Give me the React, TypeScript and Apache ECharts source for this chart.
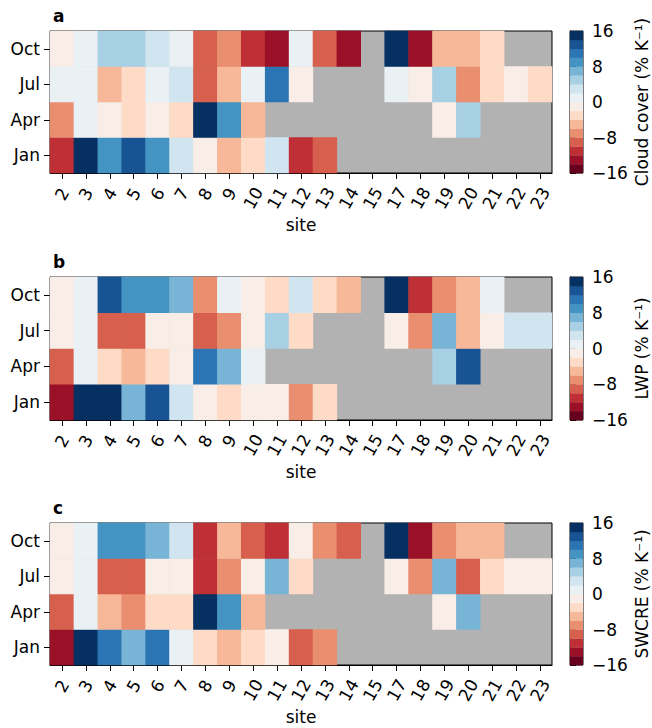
import React, { useEffect, useRef } from "react";
import * as echarts from "echarts";

const SITES = ["2","3","4","5","6","7","8","9","10","11","12","13","14","15","17","18","19","20","21","22","23"];
const MONTHS = ["Jan", "Apr", "Jul", "Oct"];

// Cloud cover (% K-1)
const CLOUD_JAN = [-11, 15, 9, 13, 9, 3, -1, -5, -3, 3, -11, -9, null, null, null, null, null, null, null, null, null];
const CLOUD_APR = [-7, 1, -1, -3, -1, -3, 15, 9, -5, null, null, null, null, null, null, null, -1, 5, null, null, null];
const CLOUD_JUL = [1, 1, -5, -3, 1, 3, -9, -5, 1, 11, -1, null, null, null, 1, -1, 5, -7, -3, -1, -3];
const CLOUD_OCT = [-1, 1, 5, 5, 3, 1, -9, -7, -11, -13, 1, -9, -13, null, 15, -13, -5, -5, -3, null, null];

// LWP (% K-1)
const LWP_JAN = [-13, 15, 15, 7, 13, 3, -1, -3, -1, -1, -7, -3, null, null, null, null, null, null, null, null, null];
const LWP_APR = [-9, 1, -3, -5, -3, -1, 11, 7, 1, null, null, null, null, null, null, null, 5, 13, null, null, null];
const LWP_JUL = [-1, 1, -9, -9, -1, -1, -9, -7, -1, 5, -3, null, null, null, -1, -7, 7, -5, -1, 3, 3];
const LWP_OCT = [-1, 1, 13, 9, 9, 7, -7, 1, -1, -3, 3, -3, -5, null, 15, -11, -7, -5, 1, null, null];

// SWCRE (% K-1)
const SW_JAN = [-13, 15, 11, 7, 11, 1, -3, -5, -3, -1, -9, -7, null, null, null, null, null, null, null, null, null];
const SW_APR = [-9, 1, -5, -7, -3, -3, 15, 9, -5, null, null, null, null, null, null, null, -1, 7, null, null, null];
const SW_JUL = [-1, 1, -9, -9, -1, -1, -11, -7, -1, 7, -3, null, null, null, -1, -7, 7, -9, -3, -1, -1];
const SW_OCT = [-1, 1, 9, 9, 7, 3, -11, -5, -9, -11, -1, -7, -9, null, 15, -13, -7, -5, -5, null, null];

const PANEL_LETTERS = ["a", "b", "c"];
const CBAR_NAMES = ["Cloud cover (% K\u207B\u00B9)", "LWP (% K\u207B\u00B9)", "SWCRE (% K\u207B\u00B9)"];
const CBAR_EDGES = [-16, -14, -12, -10, -8, -6, -4, -2, 0, 2, 4, 6, 8, 10, 12, 14, 16];
const CBAR_MIN = -16;
const CBAR_MAX = 16;
const CBAR_STEP = 8;

const COLORS = [
  "#67001f", "#991027", "#be3036", "#d6604d", "#ea8e70", "#f7b799", "#fddbc7", "#f9eee7",
  "#eaf1f5", "#d1e5f0", "#a7d0e4", "#78b4d5", "#4393c3", "#2c75b4", "#185493", "#053061",
];

const FONT = "DejaVu Sans";

function buildData(rows: (number | null)[][]) {
  const out: number[][] = [];
  rows.forEach((row, m) => {
    row.forEach((v, s) => {
      if (v !== null && v !== undefined) out.push([s, m, v]);
    });
  });
  return out;
}

export default function App() {
  const ref = useRef<HTMLDivElement>(null);
  useEffect(() => {
    if (!ref.current) return;
    const chart = echarts.init(ref.current, undefined, { renderer: "svg" });
    const panels = [
      [CLOUD_JAN, CLOUD_APR, CLOUD_JUL, CLOUD_OCT],
      [LWP_JAN, LWP_APR, LWP_JUL, LWP_OCT],
      [SW_JAN, SW_APR, SW_JUL, SW_OCT],
    ];
    const tops = [31, 277, 523];
    const heights = [142, 143, 142];

    const grids: any[] = [];
    const xAxes: any[] = [];
    const yAxes: any[] = [];
    const series: any[] = [];
    const titles: any[] = [];

    const cbarData = CBAR_EDGES.slice(0, -1).map((lo, i) => [lo, CBAR_EDGES[i + 1], (lo + CBAR_EDGES[i + 1]) / 2]);

    panels.forEach((rows, p) => {
      grids.push({
        left: 50, top: tops[p], width: 502, height: heights[p],
        show: true, backgroundColor: "#b2b2b2", borderColor: "#000", borderWidth: 1,
        outerBoundsMode: "none",
      });
      xAxes.push({
        type: "category", data: SITES, gridIndex: p,
        axisLine: { show: true, lineStyle: { color: "#000", width: 1 } },
        axisTick: { show: true, alignWithLabel: true, length: 6, lineStyle: { color: "#000" } },
        axisLabel: {
          interval: 0, rotate: 60, align: "center", verticalAlign: "middle", margin: 21,
          fontSize: 17, color: "#000", fontFamily: FONT, hideOverlap: false,
          formatter: (v: string) => (v.length > 1 ? "{d|" + v + "}" : "{s|" + v + "}"),
          rich: {
            s: { fontSize: 17, color: "#000", fontFamily: FONT },
            d: { fontSize: 17, color: "#000", fontFamily: FONT, padding: [4, 7, 0, 0] },
          },
        },
        splitLine: { show: false },
        name: "site", nameLocation: "middle", nameGap: 43,
        nameTextStyle: { fontSize: 17, color: "#000", fontFamily: FONT },
      });
      yAxes.push({
        type: "category", data: MONTHS, gridIndex: p,
        axisLine: { show: true, lineStyle: { color: "#000", width: 1 } },
        axisTick: { show: true, alignWithLabel: true, length: 6, lineStyle: { color: "#000" } },
        axisLabel: { fontSize: 17, color: "#000", fontFamily: FONT, margin: 10 },
        splitLine: { show: false },
      });
      series.push({
        type: "heatmap", xAxisIndex: p, yAxisIndex: p,
        data: buildData(rows),
        itemStyle: { borderWidth: 0 },
        emphasis: { disabled: true },
      });
      titles.push({
        text: PANEL_LETTERS[p], left: 48, top: tops[p] - 29,
        textStyle: { fontSize: 17, fontWeight: "bold", color: "#000", fontFamily: FONT },
      });
    });

    panels.forEach((_, p) => {
      const gi = 3 + p;
      grids.push({
        left: 570, top: tops[p], width: 13, height: heights[p],
        show: true, borderColor: "#000", borderWidth: 1, backgroundColor: "transparent",
        outerBoundsMode: "none",
      });
      xAxes.push({ type: "value", gridIndex: gi, min: 0, max: 1, show: false });
      yAxes.push({
        type: "value", gridIndex: gi, min: CBAR_MIN, max: CBAR_MAX, interval: CBAR_STEP, position: "right",
        axisLine: { show: true, lineStyle: { color: "#000", width: 1 } },
        axisTick: { show: true, length: 6, inside: false, lineStyle: { color: "#000" } },
        axisLabel: {
          fontSize: 17, color: "#000", fontFamily: FONT, margin: 9,
          formatter: (v: number) => (v < 0 ? "\u2212" + Math.abs(v) : String(v)),
        },
        splitLine: { show: false },
        name: CBAR_NAMES[p], nameLocation: "middle", nameRotate: 90, nameGap: 50,
        nameTextStyle: { fontSize: 17, color: "#000", fontFamily: FONT },
      });
      series.push({
        type: "custom", xAxisIndex: gi, yAxisIndex: gi,
        data: cbarData,
        renderItem: (params: any, api: any) => {
          const lo = api.value(0);
          const hi = api.value(1);
          const p1 = api.coord([0, hi]);
          const p2 = api.coord([1, lo]);
          return {
            type: "rect",
            shape: { x: p1[0], y: p1[1], width: p2[0] - p1[0], height: p2[1] - p1[1] + 0.3 },
            style: { fill: api.visual("color") },
          };
        },
      });
    });

    chart.setOption({
      animation: false,
      backgroundColor: "#fff",
      textStyle: { fontFamily: FONT },
      title: titles,
      grid: grids,
      xAxis: xAxes,
      yAxis: yAxes,
      visualMap: {
        type: "piecewise", show: false, dimension: 2,
        seriesIndex: [0, 1, 2, 3, 4, 5],
        pieces: COLORS.map((c, i) => ({ gte: CBAR_MIN + 2 * i, lt: CBAR_MIN + 2 * i + 2, color: c })),
      },
      series,
    });
    return () => chart.dispose();
  }, []);
  return <div ref={ref} style={{ position: "fixed", left: 0, top: 0, width: 652, height: 728 }} />;
}
